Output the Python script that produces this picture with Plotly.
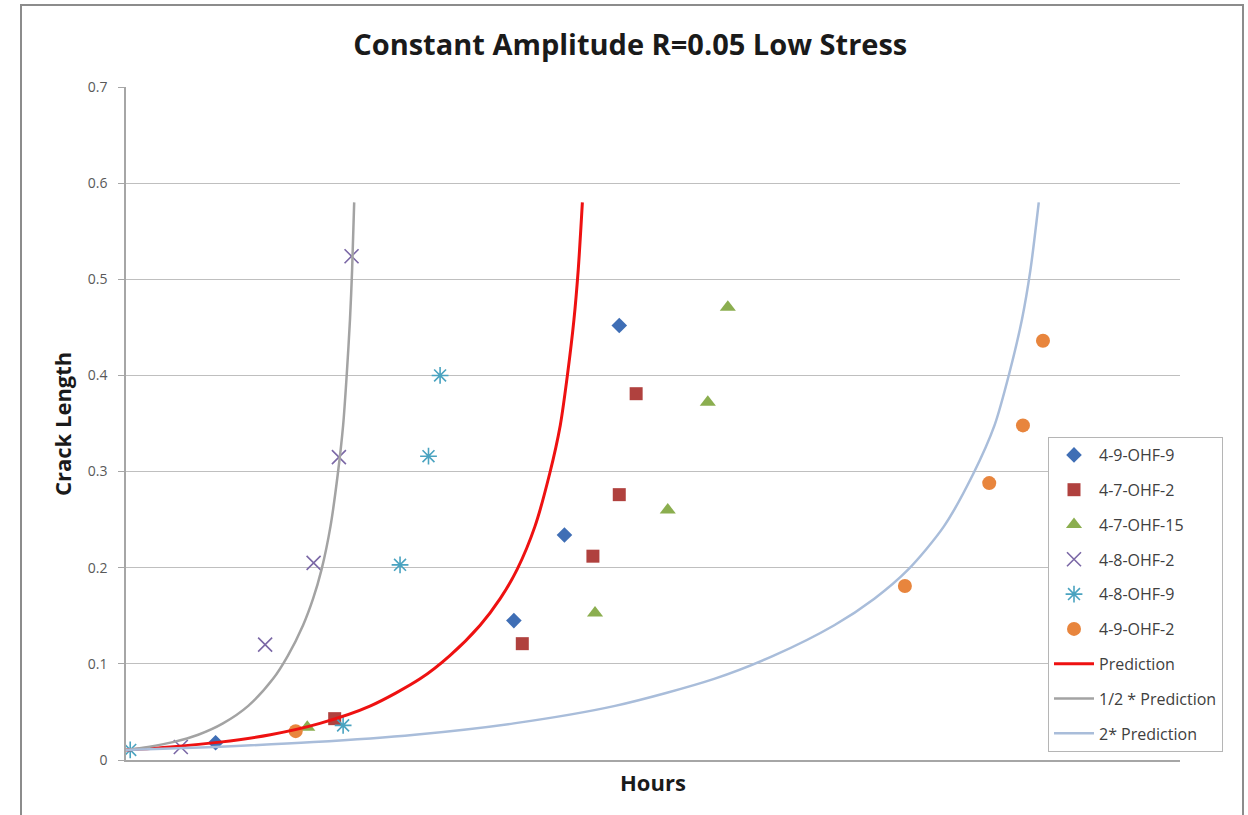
import plotly.graph_objects as go

# ---- measured specimens (hours, crack length) ----
hours_4_9_ohf_9 = [85, 368, 416, 468]
crack_4_9_ohf_9 = [0.018, 0.145, 0.234, 0.452]

hours_4_7_ohf_2 = [198, 376, 443, 468, 484]
crack_4_7_ohf_2 = [0.043, 0.121, 0.212, 0.276, 0.381]

hours_4_7_ohf_15 = [172, 445, 514, 552, 571]
crack_4_7_ohf_15 = [0.034, 0.153, 0.260, 0.372, 0.471]

hours_4_8_ohf_2 = [52, 132, 178, 202, 214]
crack_4_8_ohf_2 = [0.0135, 0.120, 0.205, 0.315, 0.524]

hours_4_8_ohf_9 = [4, 206, 260, 287, 298]
crack_4_8_ohf_9 = [0.0105, 0.036, 0.203, 0.316, 0.400]

hours_4_9_ohf_2 = [161, 739, 819, 851, 870]
crack_4_9_ohf_2 = [0.030, 0.181, 0.288, 0.348, 0.436]

# ---- predicted growth curves ----
pred_crack = [0.0104, 0.0136, 0.0186, 0.0263, 0.0381, 0.0563, 0.0844, 0.1083, 0.1402,
              0.1678, 0.198, 0.243, 0.298, 0.348, 0.402, 0.458, 0.509, 0.580]
pred_hours = [0, 42, 89, 137, 184, 232, 279, 307, 336,
              355, 371, 388, 402, 412, 419, 425, 429, 433]
half_pred_hours = [0, 21, 44.5, 68.5, 92, 116, 139.5, 153.5, 168,
                   177.5, 185.5, 194, 201, 206, 209.5, 212.5, 214.5, 216.5]
double_pred_hours = [0, 84, 178, 274, 368, 464, 558, 614, 672,
                     710, 742, 776, 804, 824, 838, 850, 858, 866]

y_ticks = [0, 0.1, 0.2, 0.3, 0.4, 0.5, 0.6, 0.7]
y_tick_text = ["0", "0.1", "0.2", "0.3", "0.4", "0.5", "0.6", "0.7"]

FONT = "Open Sans"

fig = go.Figure()

def add_points(name, xs, ys, symbol, color, size, group, open_line=False):
    marker = dict(symbol=symbol, size=size, color=color)
    if open_line:
        marker["line"] = dict(color=color, width=1.6)
    fig.add_trace(go.Scatter(x=xs, y=ys, mode="markers", name=name,
                             marker=marker, legendgroup=group))

add_points("4-9-OHF-9", hours_4_9_ohf_9, crack_4_9_ohf_9, "diamond", "#3F6EB5", 12, "a")
add_points("4-7-OHF-2", hours_4_7_ohf_2, crack_4_7_ohf_2, "square", "#B0413E", 13, "b")
add_points("4-7-OHF-15", hours_4_7_ohf_15, crack_4_7_ohf_15, "triangle-up", "#8BAE4F", 14, "c")
add_points("4-8-OHF-2", hours_4_8_ohf_2, crack_4_8_ohf_2, "x-thin-open", "#7B68A6", 14, "d", True)
add_points("4-8-OHF-9", hours_4_8_ohf_9, crack_4_8_ohf_9, "asterisk-open", "#4AA3C0", 14, "e", True)
add_points("4-9-OHF-2", hours_4_9_ohf_2, crack_4_9_ohf_2, "circle", "#E8853D", 14, "f")

def add_curve(name, xs, ys, color, width, group):
    fig.add_trace(go.Scatter(x=xs, y=ys, mode="lines", name=name,
                             line=dict(color=color, width=width, shape="spline", smoothing=0.8),
                             legendgroup=group))

add_curve("Prediction", pred_hours, pred_crack, "#EE1111", 3, "g")
add_curve("1/2 * Prediction", half_pred_hours, pred_crack, "#A3A3A3", 2.5, "h")
add_curve("2* Prediction", double_pred_hours, pred_crack, "#A9BDDA", 2.5, "i")

W, H = 1248, 815
L, R, T, B = 126, 1180, 87, 760
pw, ph = R - L, B - T

def px_x(v):
    return (v - L) / pw

def px_y(v):
    return (B - v) / ph

fig.update_layout(
    width=W, height=H,
    margin=dict(l=L, r=W - R, t=T, b=H - B),
    paper_bgcolor="white", plot_bgcolor="white",
    font=dict(family=FONT, color="#404040"),
    title=dict(text="<b>Constant Amplitude R=0.05 Low Stress</b>",
               font=dict(family=FONT, size=29, color="#1a1a1a"),
               xref="container", yref="container", x=0.505, y=1 - 45 / H,
               xanchor="center", yanchor="middle"),
    xaxis=dict(range=[0, 1000], showgrid=False, showticklabels=False, ticks="",
               showline=True, linecolor="#A6A6A6", linewidth=1.5, zeroline=False,
               fixedrange=True),
    yaxis=dict(range=[0, 0.7], tickvals=y_ticks, ticktext=y_tick_text,
               showgrid=True, gridcolor="#BFBFBF", gridwidth=1.3,
               showline=True, linecolor="#A6A6A6", linewidth=1.5,
               ticks="outside", ticklen=6, tickcolor="#A6A6A6",
               ticklabelstandoff=8,
               tickfont=dict(family=FONT, size=14, color="#595959"),
               zeroline=False, fixedrange=True),
    legend=dict(x=px_x(1048), y=px_y(437), xanchor="left", yanchor="top",
                bgcolor="white", bordercolor="#B5B5B5", borderwidth=1,
                font=dict(family=FONT, size=16, color="#404040"),
                itemwidth=40,
                tracegroupgap=11, traceorder="grouped"),
    showlegend=True,
)

# axis titles
fig.add_annotation(text="<b>Hours</b>", xref="paper", yref="paper",
                   x=px_x(653), y=px_y(782), showarrow=False,
                   font=dict(family=FONT, size=22, color="#1a1a1a"),
                   xanchor="center", yanchor="middle")
fig.add_annotation(text="<b>Crack Length</b>", xref="paper", yref="paper",
                   x=px_x(62), y=px_y(424), showarrow=False, textangle=-90,
                   font=dict(family=FONT, size=22, color="#1a1a1a"),
                   xanchor="center", yanchor="middle")

# chart frame
fig.add_shape(type="rect", xref="paper", yref="paper",
              x0=px_x(21), x1=px_x(1243), y0=px_y(830), y1=px_y(5),
              line=dict(color="#8C8C8C", width=2), fillcolor="rgba(0,0,0,0)",
              layer="below")

fig.write_html("out.html")
